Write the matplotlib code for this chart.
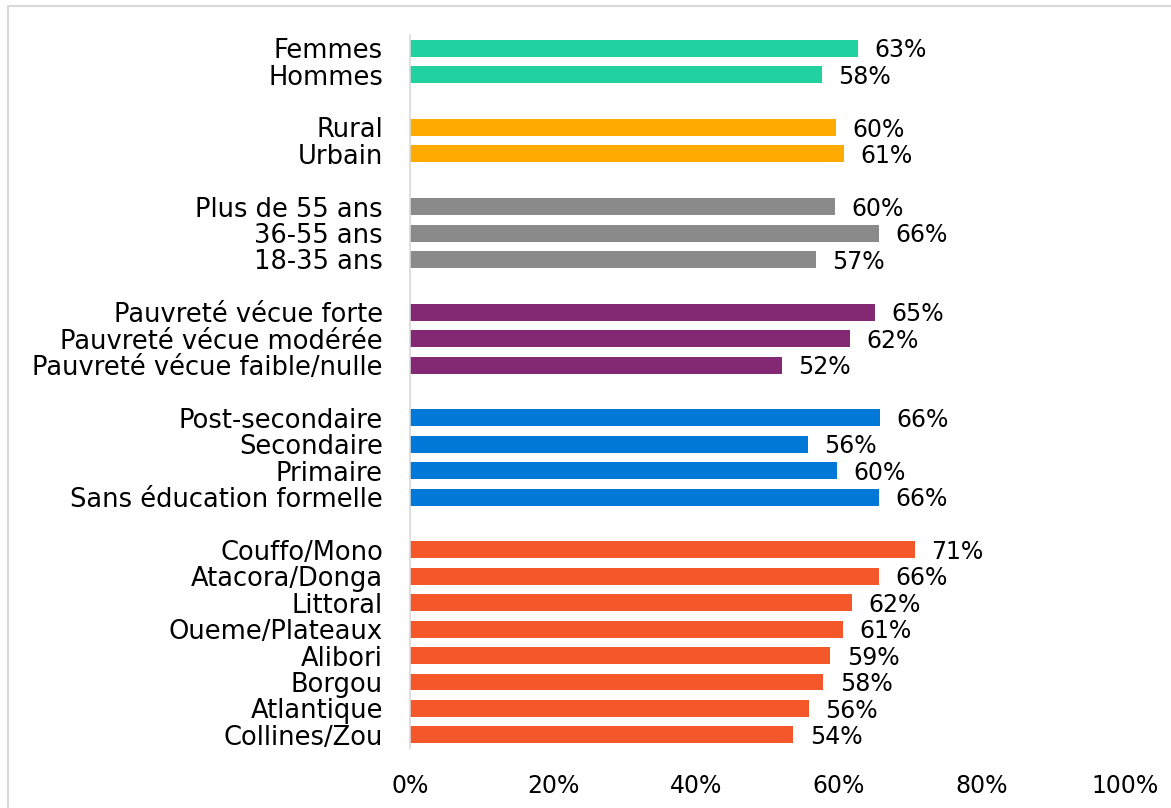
import numpy as np
import matplotlib
matplotlib.use("Agg")
import matplotlib.pyplot as plt
from matplotlib.patches import Rectangle

plt.rcParams['font.family'] = ['DejaVu Sans']

# groups, top to bottom
sexe = ['Femmes', 'Hommes']
sexe_vals = [62.6, 57.6]
milieu = ['Rural', 'Urbain']
milieu_vals = [59.6, 60.7]
age = ['Plus de 55 ans', '36-55 ans', '18-35 ans']
age_vals = [59.5, 65.6, 56.8]
pauvrete = ['Pauvreté vécue forte', 'Pauvreté vécue modérée', 'Pauvreté vécue faible/nulle']
pauvrete_vals = [65.0, 61.5, 52.0]
education = ['Post-secondaire', 'Secondaire', 'Primaire', 'Sans éducation formelle']
education_vals = [65.7, 55.6, 59.7, 65.6]
region = ['Couffo/Mono', 'Atacora/Donga', 'Littoral', 'Oueme/Plateaux',
          'Alibori', 'Borgou', 'Atlantique', 'Collines/Zou']
region_vals = [70.6, 65.6, 61.8, 60.6, 58.8, 57.8, 55.8, 53.6]

groups = [sexe, milieu, age, pauvrete, education, region]
group_vals = [sexe_vals, milieu_vals, age_vals, pauvrete_vals, education_vals, region_vals]
colors = ['#22D1A0', '#FFAA00', '#8A8A8A', '#832873', '#0078D7', '#F4572A']

fig = plt.figure(figsize=(11.71, 8.08), dpi=100)
ax = fig.add_axes([410/1171, 60/808, 715/1171, 713/808])

labels, positions = [], []
row = 0
for cats, vals, col in zip(groups, group_vals, colors):
    ys = np.arange(row, row + len(cats))
    ax.barh(ys, vals, height=0.64, color=col)
    for y, v in zip(ys, vals):
        ax.text(v + 2.3, y + 0.08, f"{v:.0f}%", va='center', ha='left', fontsize=17, color='black')
    labels += cats
    positions += list(ys)
    row += len(cats) + 1

ax.set_ylim(row - 1 - 0.5, -0.5)
ax.set_xlim(0, 100)
ax.set_yticks(positions)
ax.set_yticklabels(labels, fontsize=18.5)
ax.set_xticks([0, 20, 40, 60, 80, 100])
ax.set_xticklabels([f"{t}%" for t in [0, 20, 40, 60, 80, 100]], fontsize=17)
ax.tick_params(axis='y', length=0, pad=19.5)
ax.tick_params(axis='x', length=0, pad=19)
for s in ['top', 'right', 'bottom']:
    ax.spines[s].set_visible(False)
ax.spines['left'].set_color('#D9D9D9')
ax.spines['left'].set_linewidth(1.2)

# light frame around chart area
fig.patches.append(Rectangle((8/1171, -0.1), 1.2, (808 - 6)/808 + 0.1,
                             transform=fig.transFigure, fill=False,
                             edgecolor='#D9D9D9', linewidth=1.5))

fig.savefig('out.png', dpi=100)
